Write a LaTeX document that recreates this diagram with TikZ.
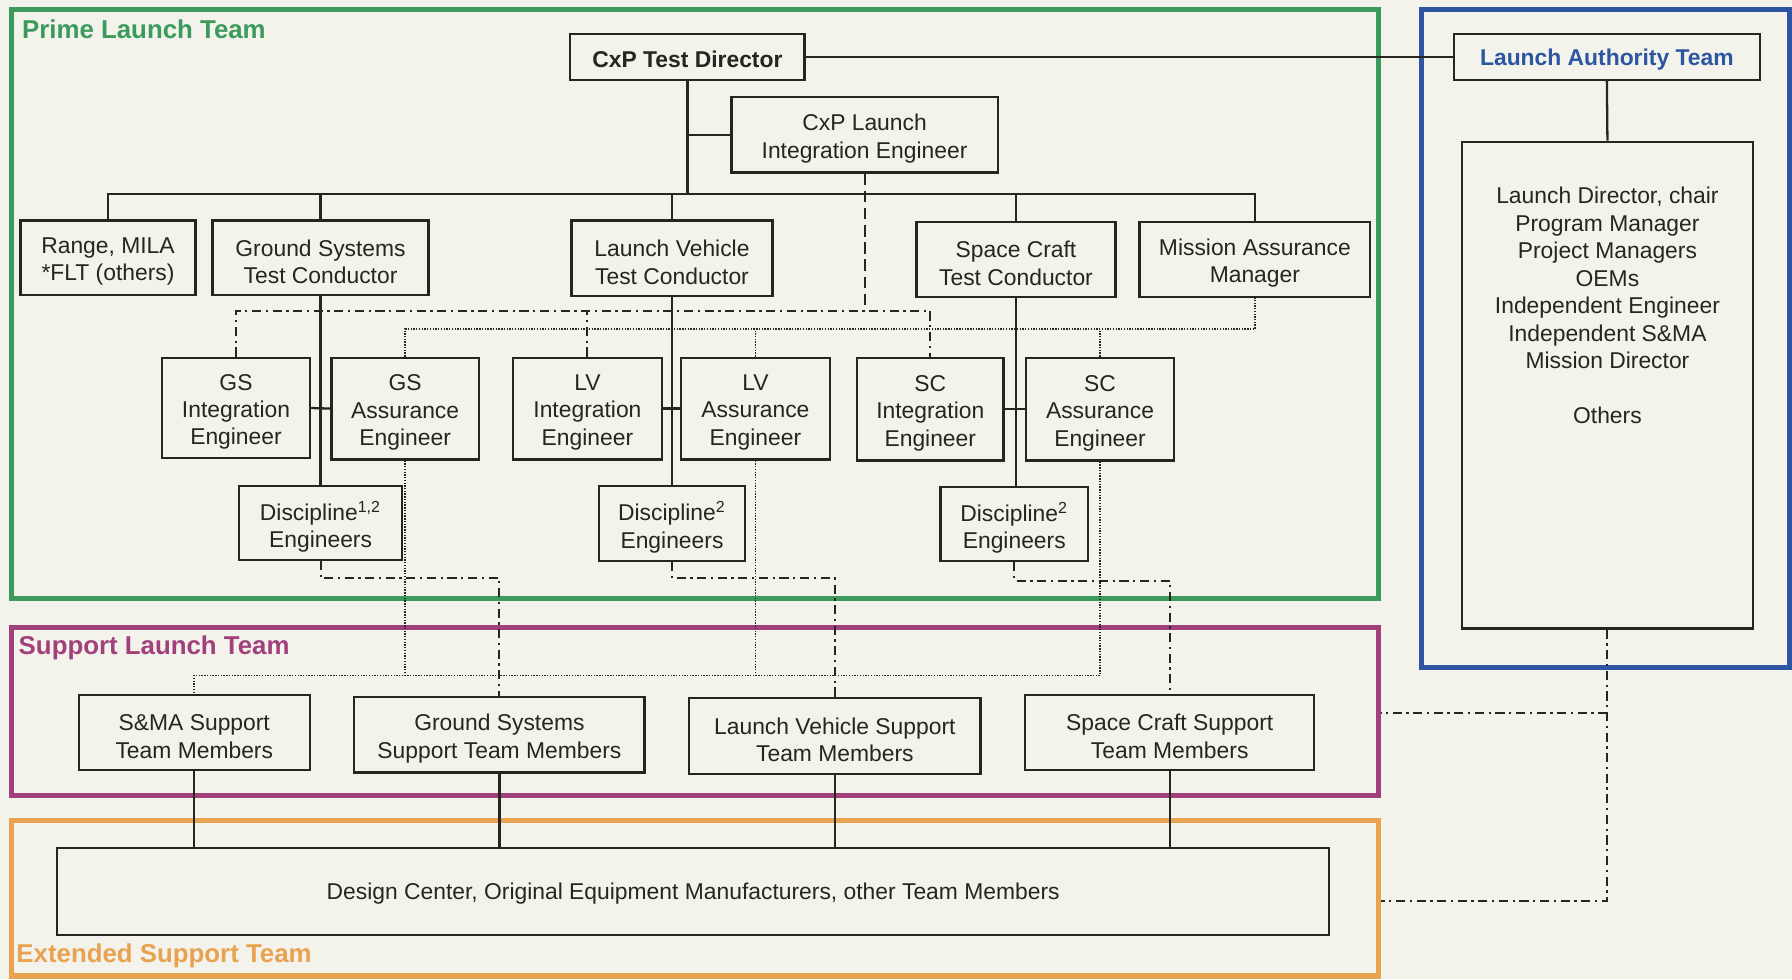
\documentclass[tikz,border=0pt]{standalone}
\usepackage{fontspec}
\setmainfont{Liberation Sans}
\definecolor{bgcol}{HTML}{F3F3EC}
\definecolor{ink}{HTML}{262620}
\definecolor{pgreen}{HTML}{3C9A5C}
\definecolor{lblue}{HTML}{2D55A2}
\definecolor{spurple}{HTML}{A2407C}
\definecolor{eorange}{HTML}{E9A350}
\tikzset{
  box/.style={draw=ink, line width=1pt, inner sep=0pt, align=center, text=ink,
              font=\fontsize{10}{12}\selectfont},
  boxtext/.style={inner sep=0pt, align=center, text=ink,
              font=\fontsize{10}{12}\selectfont, yshift=-1.7pt},
  onebox/.style={box, execute at begin node={\rule{0pt}{9pt}}},
  boldbox/.style={onebox, font=\bfseries\fontsize{10}{12}\selectfont},
  frame/.style={line width=2.3pt, inner sep=0pt},
  conn/.style={draw=ink, line width=1pt},
  dashdot/.style={draw=ink, line width=0.9pt, dash pattern=on 4pt off 2pt on 1pt off 2pt},
  dots/.style={draw=ink, line width=0.8pt, dash pattern=on 0.6pt off 0.6pt},
  dashedline/.style={draw=ink, line width=0.9pt, dash pattern=on 5pt off 2.5pt},
  teamtitle/.style={font=\bfseries\fontsize{11.3}{13}\selectfont, anchor=west, inner sep=0pt}
}
% \bx{style}{name}{x1}{y1}{x2}{y2}{text}  (single-line / empty boxes)
\newcommand{\bx}[7]{\node[#1, minimum width={(#5-#3)*0.5pt}, minimum height={(#6-#4)*0.5pt}] (#2) at ({(#3+#5)/2},{(#4+#6)/2}) {#7};}
% \mbx{name}{x1}{y1}{x2}{y2}{text}  (multi-line boxes, text as centred label)
\newcommand{\mbx}[6]{\node[box, minimum width={(#4-#2)*0.5pt}, minimum height={(#5-#3)*0.5pt}, label={[boxtext]center:{#6}}] (#1) at ({(#2+#4)/2},{(#3+#5)/2}) {};}
\begin{document}
\begin{tikzpicture}[x=0.5pt, y=-0.5pt]
\fill[bgcol] (0,0) rectangle (1568,857);
\useasboundingbox (0,0) rectangle (1568,857);

% team frames
\bx{frame, draw=pgreen}{prime}{10}{8}{1206}{524}{}
\bx{frame, draw=lblue}{lafr}{1244}{8}{1566}{584}{}
\bx{frame, draw=spurple}{slt}{10}{549}{1206}{696}{}
\bx{frame, draw=eorange}{est}{10}{718}{1206}{854}{}

\node[teamtitle, text=pgreen] (tprime) at (19,26) {Prime Launch Team};
\node[teamtitle, text=spurple] (tslt) at (16,567) {Support Launch Team};
\node[teamtitle, text=eorange] (test) at (14,836) {Extended Support Team};

% boxes
\bx{boldbox}{td}{499}{30}{704}{70}{CxP Test Director}
\mbx{lie}{640}{85}{873}{151}{CxP Launch\\Integration Engineer}
\bx{boldbox, text=lblue}{lat}{1272}{30}{1540}{70}{Launch Authority Team}
\bx{box}{lal}{1279}{124}{1534}{550}{}
\node[box, draw=none, anchor=north] (laltext) at (1406.5,163) {Launch Director, chair\\Program Manager\\Project Managers\\OEMs\\Independent Engineer\\Independent S\&MA\\Mission Director\\[12pt]Others};

\mbx{range}{18}{193}{171}{258}{Range, MILA\\*FLT (others)}
\mbx{gstc}{186}{193}{375}{258}{Ground Systems\\Test Conductor}
\mbx{lvtc}{500}{193}{676}{259}{Launch Vehicle\\Test Conductor}
\mbx{sctc}{802}{194}{976}{260}{Space Craft\\Test Conductor}
\mbx{mam}{997}{194}{1199}{260}{Mission Assurance\\Manager}

\mbx{gsi}{142}{313}{271}{401}{GS\\Integration\\Engineer}
\mbx{gsa}{290}{313}{419}{402}{GS\\Assurance\\Engineer}
\mbx{lvi}{449}{313}{579}{402}{LV\\Integration\\Engineer}
\mbx{lva}{596}{313}{726}{402}{LV\\Assurance\\Engineer}
\mbx{sci}{750}{313}{878}{403}{SC\\Integration\\Engineer}
\mbx{sca}{898}{313}{1027}{403}{SC\\Assurance\\Engineer}

\mbx{dgs}{209}{425}{352}{490}{Discipline\textsuperscript{1,2}\\Engineers}
\mbx{dlv}{524}{425}{652}{491}{Discipline\textsuperscript{2}\\Engineers}
\mbx{dsc}{823}{426}{952}{491}{Discipline\textsuperscript{2}\\Engineers}

\mbx{sma}{69}{608}{271}{674}{S\&MA Support\\Team Members}
\mbx{gss}{310}{610}{564}{676}{Ground Systems\\Support Team Members}
\mbx{lvs}{603}{611}{858}{677}{Launch Vehicle Support\\Team Members}
\mbx{scs}{897}{608}{1150}{674}{Space Craft Support\\Team Members}

\bx{onebox}{dc}{50}{742}{1163}{818}{Design Center, Original Equipment Manufacturers, other Team Members}

% helper coordinates for bus levels
\coordinate (bus) at (0,170);
\coordinate (ddbus) at (0,272);
\coordinate (dtbus) at (0,288);
\coordinate (dgsbus) at (0,506);
\coordinate (dlvbus) at (0,506);
\coordinate (dscbus) at (0,508);
\coordinate (lowdot) at (0,591);
\coordinate (rtop) at (0,624);
\coordinate (rbot) at (0,788);

% solid hierarchy
\draw[conn] (td.east) -- (lat.west);
\draw[conn] (lat.south) -- (lal.north);
\draw[conn] (td.south) -- (td.south |- bus);
\draw[conn] (td.south |- lie.west) -- (lie.west);
\draw[conn] (range.north) -- (range.north |- bus) -- (mam.north |- bus) -- (mam.north);
\draw[conn] (gstc.north) -- (gstc.north |- bus);
\draw[conn] (lvtc.north) -- (lvtc.north |- bus);
\draw[conn] (sctc.north) -- (sctc.north |- bus);

\draw[conn] (gstc.south) -- (gstc.south |- dgs.north);
\draw[conn] (lvtc.south) -- (lvtc.south |- dlv.north);
\draw[conn] (sctc.south) -- (sctc.south |- dsc.north);
\draw[conn] (gsi.east) -- (gsa.west);
\draw[conn] (lvi.east) -- (lva.west);
\draw[conn] (sci.east) -- (sca.west);

\draw[conn] (sma.south) -- (sma.south |- dc.north);
\draw[conn] (gss.south) -- (gss.south |- dc.north);
\draw[conn] (lvs.south) -- (lvs.south |- dc.north);
\draw[conn] (scs.south) -- (scs.south |- dc.north);

% dashed from launch integration engineer
\draw[dashedline] (lie.south) -- (lie.south |- ddbus);

% dash-dot integration bus
\draw[dashdot] (gsi.north) -- (gsi.north |- ddbus) -- (sci.north |- ddbus) -- (sci.north);
\draw[dashdot] (lvi.north) -- (lvi.north |- ddbus);

% dotted assurance bus
\draw[dots] (gsa.north) -- (gsa.north |- dtbus) -- (mam.south |- dtbus) -- (mam.south);
\draw[dots] (lva.north) -- (lva.north |- dtbus);
\draw[dots] (sca.north) -- (sca.north |- dtbus);

% dash-dot discipline to support teams
\draw[dashdot] (dgs.south) -- (dgs.south |- dgsbus) -- (gss.north |- dgsbus) -- (gss.north);
\draw[dashdot] (dlv.south) -- (dlv.south |- dlvbus) -- (lvs.north |- dlvbus) -- (lvs.north);
\draw[dashdot] (dsc.south) -- (dsc.south |- dscbus) -- (scs.north |- dscbus) -- (scs.north);

% dotted assurance to S&MA support
\draw[dots] (gsa.south) -- (gsa.south |- lowdot);
\draw[dots] (lva.south) -- (lva.south |- lowdot);
\draw[dots] (sca.south) -- (sca.south |- lowdot) -- (sma.north |- lowdot) -- (sma.north);

% launch authority to support teams
\draw[dashdot] (lal.south) -- (lal.south |- rbot) -- (est.east |- rbot);
\draw[dashdot] (lal.south |- rtop) -- (slt.east |- rtop);
\end{tikzpicture}
\end{document}
